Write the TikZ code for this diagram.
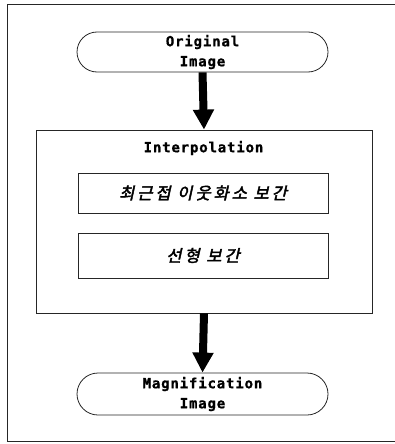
\documentclass[tikz,border=0pt]{standalone}
\usepackage{fontspec}
\newfontfamily\latfont[LetterSpace=6,FakeBold=1]{DejaVu Sans Mono}
\newfontfamily\krfont[FakeSlant=0.22,FakeBold=2.5,LetterSpace=18]{Noto Sans CJK KR}
\usetikzlibrary{arrows.meta,shapes.misc}
\begin{document}
\begin{tikzpicture}[x=1pt,y=-1pt,
  line/.style={draw=black!85,line width=0.8pt},
  stadium/.style={line,rounded rectangle,minimum width=251pt,minimum height=40pt,inner sep=0pt,align=center,
    font=\latfont\bfseries\fontsize{14}{20}\selectfont},
  subbox/.style={line,rectangle,minimum width=250pt,inner sep=0pt,font=\krfont\fontsize{16.5}{18}\selectfont},
  bigarrow/.style={line width=8pt,-{Triangle[length=20pt,width=20pt]}}]
\useasboundingbox (0,0) rectangle (394,444);
\draw[line] (400,4.5) -- (7.5,4.5) -- (7.5,441.5) -- (400,441.5);
\node[stadium] (orig) at (202.5,52) {Original\\Image};
\node[line,rectangle,minimum width=336pt,minimum height=183pt,inner sep=0pt] (interp) at (204,221.5) {};
\node[font=\latfont\bfseries\fontsize{14}{16}\selectfont] (ilabel) at (203.5,148) {Interpolation};
\node[subbox,minimum height=40pt] (nn) at (203,193) {최근접 이웃화소 보간};
\node[subbox,minimum height=45pt] (lin) at (203,255.5) {선형 보간};
\node[stadium,minimum height=42pt] (mag) at (202.5,394) {Magnification\\Image};
\draw[bigarrow] (orig.south) -- (interp.north);
\draw[bigarrow] (interp.south) -- (mag.north);
\end{tikzpicture}
\end{document}
